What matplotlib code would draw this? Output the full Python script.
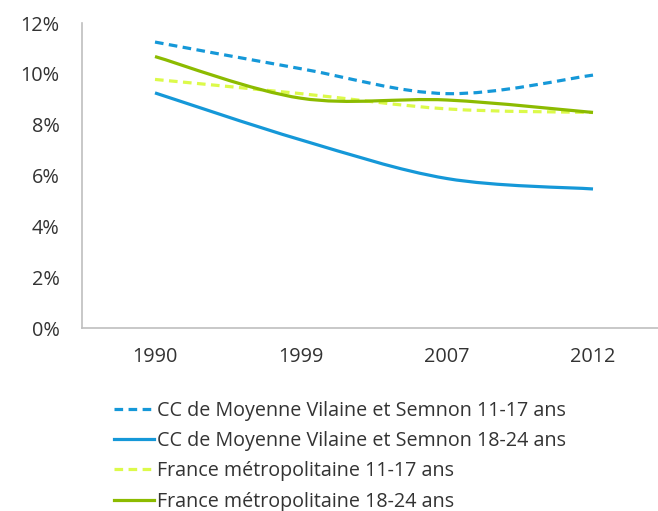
import numpy as np
import matplotlib
matplotlib.use("Agg")
import matplotlib.pyplot as plt
from matplotlib.path import Path
from matplotlib.patches import PathPatch
from matplotlib.lines import Line2D

plt.rcParams["font.family"] = ["Open Sans", "DejaVu Sans"]

annees = ["1990", "1999", "2007", "2012"]
cc_11_17 = [11.25, 10.2, 9.22, 9.95]
cc_18_24 = [9.25, 7.4, 5.88, 5.47]
fr_11_17 = [9.78, 9.22, 8.62, 8.48]
fr_18_24 = [10.68, 9.04, 8.97, 8.48]

labels = [
    "CC de Moyenne Vilaine et Semnon 11-17 ans",
    "CC de Moyenne Vilaine et Semnon 18-24 ans",
    "France métropolitaine 11-17 ans",
    "France métropolitaine 18-24 ans",
]

BLEU = "#1598d8"
VERT_CLAIR = "#dcfa4a"
VERT = "#8cbb00"
TIRETS = (0, (2.7, 1.7))


def courbe_lissee(x, y):
    """Chemin Bézier type Excel (lignes lissées) passant par les points."""
    pts = np.column_stack([x, y]).astype(float)
    ext = np.vstack([pts[0], pts, pts[-1]])
    verts = [pts[0]]
    codes = [Path.MOVETO]
    for i in range(1, len(ext) - 2):
        p0, p1, p2, p3 = ext[i - 1], ext[i], ext[i + 1], ext[i + 2]
        c1 = p1 + (p2 - p0) / 6
        c2 = p2 - (p3 - p1) / 6
        verts += [c1, c2, p2]
        codes += [Path.CURVE4] * 3
    return Path(verts, codes)


fig = plt.figure(figsize=(6.58, 5.11), dpi=100)
ax = fig.add_axes([82 / 658, 1 - 328 / 511, 584 / 658, 305 / 511])

x = np.arange(len(annees))
series = [
    (cc_11_17, BLEU, TIRETS),
    (cc_18_24, BLEU, "-"),
    (fr_11_17, VERT_CLAIR, TIRETS),
    (fr_18_24, VERT, "-"),
]
handles = []
for vals, col, ls in series:
    patch = PathPatch(courbe_lissee(x, vals), facecolor="none", edgecolor=col,
                      lw=2.3, linestyle=ls, capstyle="butt")
    ax.add_patch(patch)
    handles.append(Line2D([], [], color=col, lw=2.3, linestyle=ls))

ax.set_xlim(-0.5, len(annees) - 0.5)
ax.set_ylim(0, 12)
ax.set_xticks(x)
ax.set_xticklabels(annees)
ax.set_yticks(range(0, 13, 2))
ax.set_yticklabels([f"{v}%" for v in range(0, 13, 2)])
ax.tick_params(length=0, labelsize=14.3, colors="#333333")
ax.tick_params(axis="y", pad=16)
ax.tick_params(axis="x", pad=14)

for side in ["top", "right"]:
    ax.spines[side].set_visible(False)
for side in ["left", "bottom"]:
    ax.spines[side].set_color("#bfbfbf")
    ax.spines[side].set_linewidth(1.2)

fig.legend(handles, labels, loc="upper left", bbox_to_anchor=(104 / 658, 1 - 391 / 511),
           frameon=False, fontsize=14.2, handlelength=2.05, handletextpad=0.12,
           labelspacing=0.52, borderpad=0, labelcolor="#333333")

fig.savefig("out.png", dpi=100)
